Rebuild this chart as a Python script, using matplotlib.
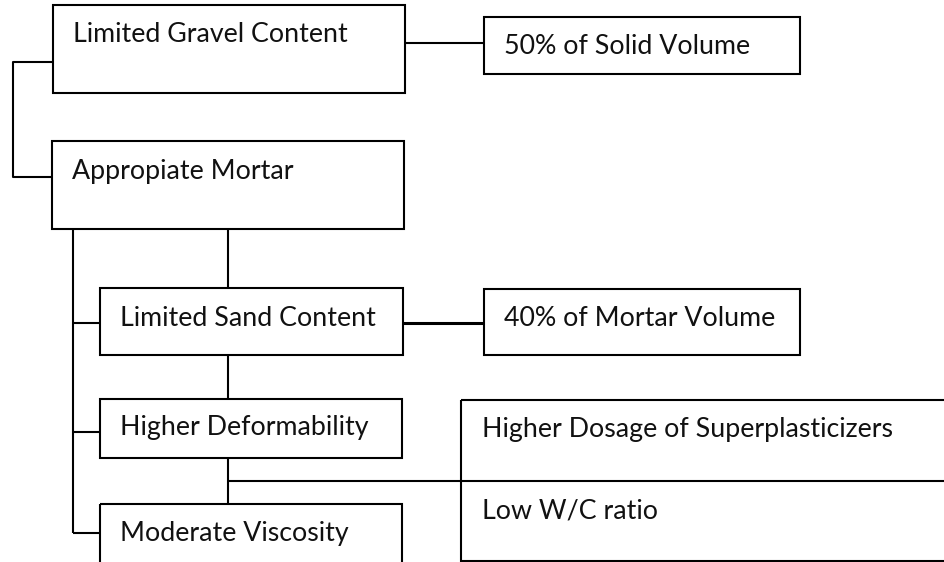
import matplotlib
matplotlib.use("Agg")
import matplotlib.pyplot as plt
from matplotlib.patches import Rectangle

plt.rcParams["font.family"] = ["Lato", "DejaVu Sans"]

# ── Node labels ──────────────────────────────────────────────────────────────
labels = [
    "Limited Gravel Content",
    "50% of Solid Volume",
    "Appropiate Mortar",
    "Limited Sand Content",
    "40% of Mortar Volume",
    "Higher Deformability",
    "Moderate Viscosity",
]
side_labels = ["Higher Dosage of Superplasticizers", "Low W/C ratio"]

# ── Layout (pixel space, y down): left, top, right, bottom, text y ───────────
box_left   = [53, 484, 52, 100, 484, 100, 100]
box_top    = [5, 17, 141, 288, 289, 399, 504]
box_right  = [405, 800, 404, 403, 800, 402, 402]
box_bottom = [93, 74, 229, 355, 355, 458, 600]
text_y     = [34, 46, 171, 318, 319, 428, 533]

side_box = (461, 400, 1100, 561)   # left, top, right (off canvas), bottom
side_text_y = [429, 511]

LW = 1.5
FS = 19.3
fig = plt.figure(figsize=(9.45, 5.62), dpi=100)
ax = fig.add_axes([0, 0, 1, 1])
ax.set_xlim(0, 945)
ax.set_ylim(562, 0)
ax.axis("off")

for lab, l, t, r, b, ty in zip(labels, box_left, box_top, box_right, box_bottom, text_y):
    ax.add_patch(Rectangle((l, t), r - l, b - t, fill=False, ec="black", lw=LW))
    ax.text(l + 20, ty, lab, fontsize=FS, va="center", ha="left", color="#111111")

l, t, r, b = side_box
ax.add_patch(Rectangle((l, t), r - l, b - t, fill=False, ec="black", lw=LW))
for lab, ty in zip(side_labels, side_text_y):
    ax.text(l + 21, ty, lab, fontsize=FS, va="center", ha="left", color="#111111")

def seg(xs, ys, lw=LW):
    ax.plot(xs, ys, color="black", lw=lw, solid_capstyle="butt")

# gravel -> 50% solid volume
seg([405, 484], [43, 43])
# bracket gravel -> mortar
seg([53, 13, 13, 52], [62, 62, 177, 177])
# mortar left trunk with stubs
seg([73, 73], [229, 533])
for y in [323, 432, 533]:
    seg([73, 100], [y, y])
# mortar centre chain
seg([228, 228], [229, 288])
seg([228, 228], [355, 399])
seg([228, 228], [458, 504])
# sand -> 40% mortar volume
seg([403, 484], [323, 323], lw=2.2)
# deformability -> side box divider
seg([228, 1000], [481, 481])

fig.savefig("out.png", dpi=100)
